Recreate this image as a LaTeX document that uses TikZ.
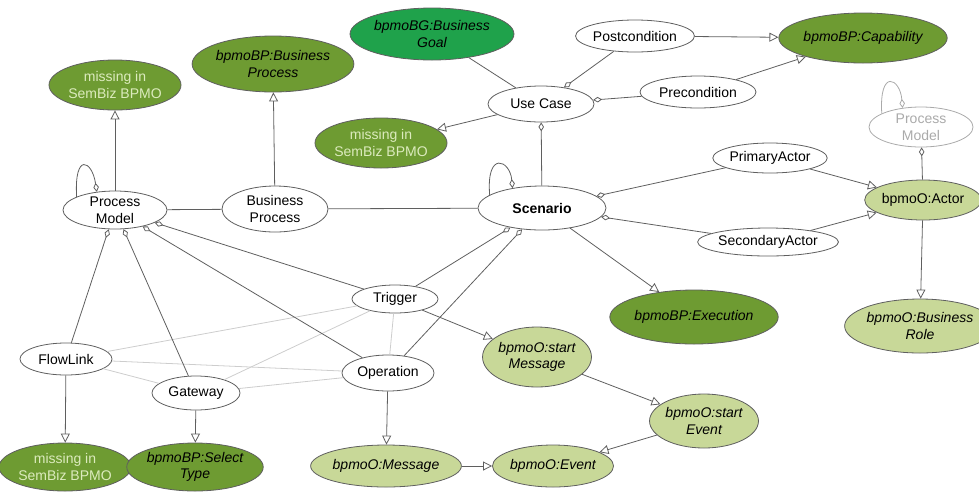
\documentclass[tikz,border=0pt]{standalone}
\usepackage{fontspec}
\setmainfont{Liberation Sans}
\usetikzlibrary{shapes.geometric,arrows.meta}
\definecolor{oliveG}{HTML}{6E9B32}
\definecolor{goalG}{HTML}{1FA24B}
\definecolor{paleG}{HTML}{C8D898}
\definecolor{missTxt}{HTML}{DCEBBE}
\definecolor{edgeC}{HTML}{5F5F5F}
\definecolor{faintC}{HTML}{CDCDCD}
\definecolor{ghostC}{HTML}{AAAAAA}

\begin{document}
\begin{tikzpicture}[x=1pt,y=-1pt]
\tikzstyle{every node}+=[inner sep=0pt]
\tikzstyle{cls}=[ellipse, draw=edgeC, line width=0.8pt, fill=white, align=center, font=\fontsize{14}{16.5}\selectfont]
\tikzstyle{bpnode}=[cls, fill=oliveG, font=\fontsize{14}{16.5}\selectfont\itshape]
\tikzstyle{missnode}=[cls, fill=oliveG, text=missTxt]
\tikzstyle{goalnode}=[cls, fill=goalG, font=\fontsize{14}{16.5}\selectfont\itshape]
\tikzstyle{onode}=[cls, fill=paleG, font=\fontsize{14}{16.5}\selectfont\itshape]
\tikzstyle{ghost}=[cls, draw=ghostC, text=ghostC]
\tikzstyle{link}=[draw=edgeC, line width=0.8pt]
\tikzstyle{agg}=[link, {Diamond[open,length=9pt,width=5.5pt]}-]
\tikzstyle{map}=[link, -{Triangle[open,length=9pt,width=9pt]}]
\tikzstyle{faint}=[draw=faintC, line width=0.8pt]
\useasboundingbox (0,0) rectangle (979,491);

\node[cls, minimum width=104, minimum height=38] (pm) at (115,210) {Process\\Model};
\node[cls, minimum width=106, minimum height=46] (bp) at (275,209) {Business\\Process};
\node[cls, minimum width=128, minimum height=44] (sc) at (542,208) {\textbf{Scenario}};
\node[cls, minimum width=106, minimum height=36] (uc) at (541,104) {Use Case};
\node[goalnode, minimum width=140, minimum height=52] (goal) at (432,34) {bpmoBG:Business\\Goal};
\node[cls, minimum width=116, minimum height=32] (post) at (635,36) {Postcondition};
\node[bpnode, minimum width=140, minimum height=50] (cap) at (863,38) {bpmoBP:Capability};
\node[cls, minimum width=116, minimum height=32] (pre) at (698,92) {Precondition};
\node[cls, minimum width=104, minimum height=30] (prim) at (770,158) {PrimaryActor};
\node[cls, minimum width=130, minimum height=28] (sec) at (768,242) {SecondaryActor};
\node[ghost, minimum width=104, minimum height=40] (gpm) at (921,127) {Process\\Model};
\node[cls, fill=paleG, minimum width=106, minimum height=40] (act) at (923,200) {bpmoO:Actor};
\node[onode, minimum width=124, minimum height=54] (role) at (920,326) {bpmoO:Business\\Role};
\node[bpnode, minimum width=148, minimum height=54] (exe) at (694,317) {bpmoBP:Execution};
\node[onode, minimum width=96, minimum height=54] (sev) at (704,421) {bpmoO:start\\Event};
\node[onode, minimum width=96, minimum height=60] (smsg) at (537,357) {bpmoO:start\\Message};
\node[onode, minimum width=104, minimum height=42] (ev) at (553,466) {bpmoO:Event};
\node[onode, minimum width=128, minimum height=42] (msg) at (386,466) {bpmoO:Message};
\node[cls, minimum width=92, minimum height=36] (op) at (388,373) {Operation};
\node[cls, minimum width=86, minimum height=28] (trg) at (395,299) {Trigger};
\node[cls, minimum width=92, minimum height=32] (fl) at (66,359) {FlowLink};
\node[cls, minimum width=88, minimum height=34] (gw) at (196,393) {Gateway};
\node[missnode, minimum width=116, minimum height=48] (missB) at (65,467) {missing in\\SemBiz BPMO};
\node[bpnode, minimum width=116, minimum height=48] (sel) at (195,467) {bpmoBP:Select\\Type};
\node[missnode, minimum width=116, minimum height=50] (missT) at (115,85) {missing in\\SemBiz BPMO};
\node[bpnode, minimum width=130, minimum height=56] (bbp) at (273,64) {bpmoBP:Business\\Process};
\node[missnode, minimum width=116, minimum height=50] (missM) at (381,143) {missing in\\SemBiz BPMO};

\draw[faint] (fl) -- (trg);
\draw[faint] (fl) -- (op);
\draw[faint] (fl) -- (gw);
\draw[faint] (gw) -- (trg);
\draw[faint] (gw) -- (op);
\draw[faint] (trg) -- (op);

\draw[link] (pm) -- (bp);
\draw[link] (bp) -- (sc);
\draw[link] (goal) -- (uc);
\draw[map] (pm) -- (missT);
\draw[map] (bp) -- (bbp);
\draw[map] (uc) -- (missM);
\draw[map] (post) -- (cap);
\draw[map] (pre) -- (cap);
\draw[map] (prim) -- (act);
\draw[map] (sec) -- (act);
\draw[map] (act) -- (role);
\draw[map] (sc) -- (exe);
\draw[map] (trg) -- (smsg);
\draw[map] (op) -- (msg);
\draw[map] (msg) -- (ev);
\draw[map] (smsg) -- (sev);
\draw[map] (sev) -- (ev);
\draw[map] (fl) -- (missB);
\draw[map] (gw) -- (sel);

\draw[agg] (uc) -- (post);
\draw[agg] (uc) -- (pre);
\draw[agg] (uc) -- (sc);
\draw[agg] (sc) -- (prim);
\draw[agg] (sc) -- (sec);
\draw[agg] (sc) -- (trg);
\draw[agg] (sc) -- (op);
\draw[agg] (pm) -- (trg);
\draw[agg] (pm) -- (op);
\draw[agg] (pm) -- (fl);
\draw[agg] (pm) -- (gw);
\draw[agg] (gpm) -- (act);

\draw[agg] (pm.135) .. controls (92,160) and (74,152) .. (pm.161);
\draw[agg] (sc.146) .. controls (510,160) and (486,150) .. (sc.166);
\draw[agg, draw=ghostC] (gpm.134) .. controls (900,78) and (879,68) .. (gpm.161);
\end{tikzpicture}
\end{document}
